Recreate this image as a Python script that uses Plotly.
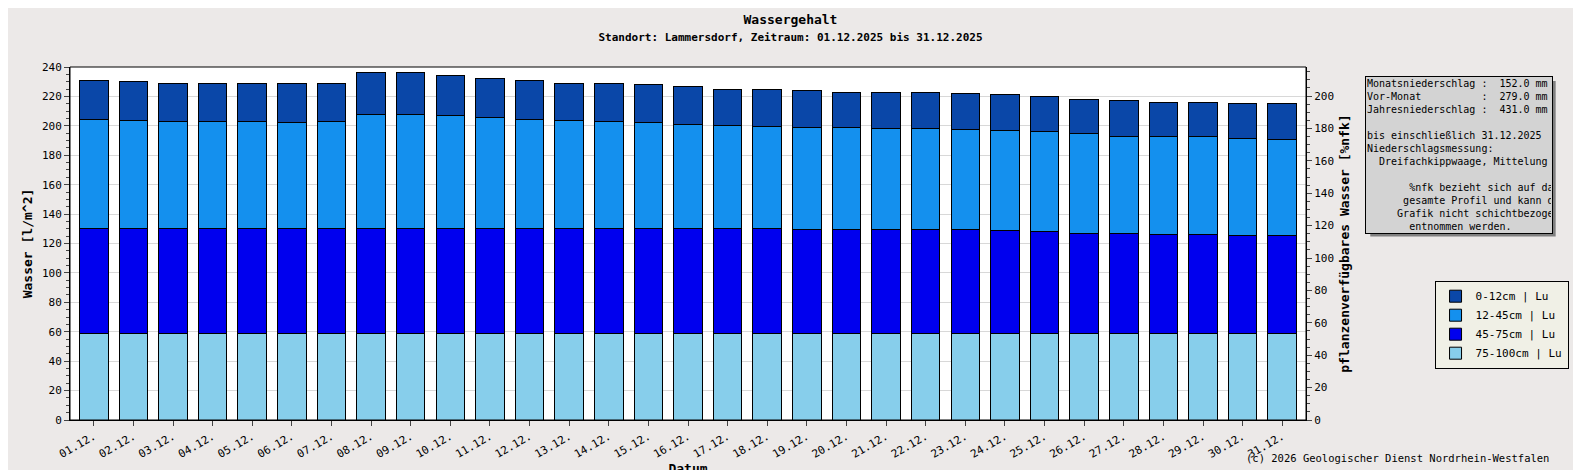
import plotly.graph_objects as go

tage = ["%02d.12." % d for d in range(1, 32)]

# kumulierte Oberkanten je Schicht [l/m^2]
top_75_100 = [59]*27 + [58.5]*4
top_45_75 = [130]*18 + [129.5]*5 + [129, 128, 127, 127, 126, 126, 125.5, 125.5]
top_12_45 = [204, 203.5, 203, 203, 203, 202, 203, 208, 208, 207, 205.5, 204, 203.5, 203, 202, 201,
             200, 199.5, 199, 199, 198, 198, 197.5, 197, 196, 194.5, 193, 192.5, 192.5, 191.5, 191]
top_0_12 = [230.5, 230, 228.5, 228.5, 228.5, 228.5, 228.5, 236, 236, 234.5, 232.5, 231, 229, 228.5, 228,
            226.5, 225, 224.5, 224, 223, 223, 222.5, 222, 221.5, 220, 218, 217, 216, 216, 215.5, 215]

schichten = [
    ("75-100cm | Lu", top_75_100, [0]*31, "#87ceeb"),
    ("45-75cm | Lu", top_45_75, top_75_100, "#0000ee"),
    ("12-45cm | Lu", top_12_45, top_45_75, "#1490ee"),
    ("0-12cm | Lu", top_0_12, top_12_45, "#0a47a8"),
]

fig = go.Figure()
for name, oben, unten, farbe in schichten:
    fig.add_trace(go.Bar(x=tage, y=[o - u for o, u in zip(oben, unten)], name=name,
                         marker=dict(color=farbe, line=dict(color="black", width=1)), width=0.72))
fig.add_trace(go.Scatter(x=tage, y=[0]*31, yaxis="y2", mode="markers", opacity=0,
                         showlegend=False, hoverinfo="skip"))

font = "DejaVu Sans Mono"
fig.update_layout(
    width=1565, height=470, barmode="stack",
    paper_bgcolor="#ece9e8", plot_bgcolor="white",
    font=dict(family=font, size=11, color="black"),
    margin=dict(l=62, r=267, t=59, b=58, autoexpand=False),
    title=dict(text="<b>Wassergehalt</b><br><span style='font-size:11px'><b>Standort: Lammersdorf, Zeitraum: 01.12.2025 bis 31.12.2025</b></span>",
               x=0.5, xanchor="center", y=0.965, yanchor="top", font=dict(size=13)),
    xaxis=dict(title=dict(text="<b>Datum</b>", standoff=2), tickangle=-30, showline=True, linecolor="black",
               ticks="outside", range=[-0.6, 30.6], automargin=False),
    yaxis=dict(title=dict(text="<b>Wasser [l/m^2]</b>", standoff=6), range=[0, 240], dtick=20, showline=True,
               linecolor="black", gridcolor="#d8d8d8", ticks="outside", automargin=False,
               minor=dict(ticks="outside", dtick=5)),
    yaxis2=dict(title=dict(text="<b>pflanzenverfügbares Wasser [%nfk]</b>", standoff=6), overlaying="y",
                side="right", range=[0, 217.9], dtick=20, showgrid=False, showline=True, linecolor="black",
                ticks="outside", automargin=False, minor=dict(ticks="outside", dtick=5)),
    legend=dict(x=1.104, xanchor="left", y=0.27, yanchor="middle", traceorder="reversed",
                bgcolor="#f0f0e6", bordercolor="black", borderwidth=1, font=dict(size=11)),
)

fig.add_shape(type="rect", xref="paper", yref="paper", x0=0, x1=1, y0=0, y1=1,
              line=dict(color="black", width=1))
# Infobox mit Schatten
fig.add_shape(type="rect", xref="paper", yref="paper", x0=1.052, x1=1.202, y0=0.52, y1=0.96,
              fillcolor="#808080", line=dict(width=0), layer="above")
info = ("Monatsniederschlag :  152.0 mm<br>Vor-Monat          :  279.0 mm<br>Jahresniederschlag :  431.0 mm<br><br>"
        "bis einschließlich 31.12.2025<br>Niederschlagsmessung:<br>  Dreifachkippwaage, Mittelung<br><br>"
        "       %nfk bezieht sich auf das<br>      gesamte Profil und kann der<br>     Grafik nicht schichtbezogen<br>"
        "       entnommen werden.")
fig.add_annotation(xref="paper", yref="paper", x=1.0477, y=0.975, xanchor="left", yanchor="top",
                   text=info, align="left", showarrow=False, bgcolor="#d3d3d3", bordercolor="black",
                   borderwidth=1, font=dict(size=10), width=184)
fig.add_annotation(xref="paper", yref="paper", x=1.198, y=-0.085, xanchor="right", yanchor="top",
                   text="(c) 2026 Geologischer Dienst Nordrhein-Westfalen", showarrow=False, font=dict(size=10.5))

fig.write_html("out.html")
